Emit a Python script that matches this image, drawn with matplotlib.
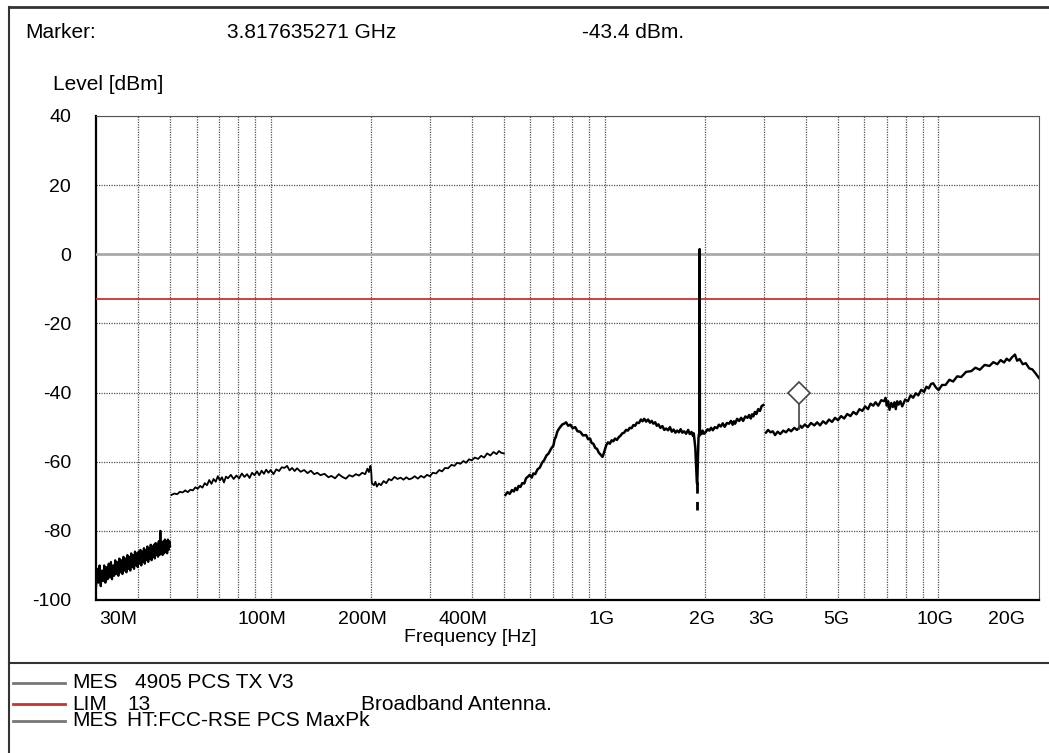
import numpy as np
import matplotlib
matplotlib.use("Agg")
import matplotlib.pyplot as plt
from matplotlib.lines import Line2D
from matplotlib.transforms import ScaledTranslation

plt.rcParams['font.family'] = ['Liberation Sans', 'DejaVu Sans']

# ---- data (frequencies in MHz, levels in dBm) ----
# band 1: 30-50 MHz, sweep every 0.25 MHz
seg1_lvl = [-96.5, -91, -95, -90, -96, -91.5, -94.5, -90, -95, -90.5, -94, -89.5, -93.5, -89,
            -94, -90, -93, -88.5, -92.5, -89, -93, -88, -92, -88.5, -92.5, -87.5, -91.5, -88,
            -92, -87, -91, -87.5, -91.5, -86.5, -90.5, -87, -91, -86, -90, -86.5, -90.5, -86,
            -89.5, -85.5, -90, -86, -89, -85, -89.5, -85.5, -88.5, -84.5, -89, -85, -88, -84,
            -88.5, -84.5, -87.5, -84, -88, -83.5, -87, -84, -87.5, -83, -87, -80, -86.5, -83.5,
            -87, -83, -86.5, -82.5, -86, -83, -86.5, -82.5, -85.5, -83, -84.5]
seg1_f = np.linspace(30, 50, len(seg1_lvl))

# band 2: 50-500 MHz
seg2 = [(50.5, -69.6), (51.5, -69.2), (52.5, -69.4), (53.5, -68.7), (54.5, -68.9), (55.5, -68.3),
        (56.5, -68.8), (57.5, -68.1), (58.5, -68.3), (59.5, -67.4), (60.5, -67.8), (61.5, -67),
        (62.5, -67.5), (63.5, -66.2), (64.5, -66.8), (65.5, -65.3), (66.5, -66.4), (67.5, -65),
        (68.5, -65.8), (69.5, -64.2), (70.5, -65.4), (71.5, -64.5), (72.5, -66), (73.5, -64.3),
        (74.5, -64.8), (76, -63.8), (77.5, -65), (79, -64), (80.5, -64.8), (82, -63.4),
        (83.5, -64.4), (85, -63.6), (86.5, -64.7), (88, -63.2), (89.5, -63.9), (91, -62.8),
        (92.5, -63.9), (94, -62.6), (95.5, -63.5), (97, -62.3), (98.5, -63.2), (100, -62.4),
        (102, -63.6), (104, -62.2), (106, -62.7), (108, -61.6), (110, -61.8), (112, -61.2),
        (114, -62.5), (116, -61.8), (118, -62.7), (120, -61.9), (123, -62.9), (126, -62.4),
        (129, -63.3), (132, -62.6), (135, -63.6), (138, -63.2), (141, -63.9), (145, -63.5),
        (149, -64.5), (152, -64.1), (156, -64.8), (160, -63.6), (164, -64.4), (168, -64.9),
        (172, -63.9), (176, -64.3), (180, -63.6), (184, -64), (188, -63.2), (192, -63.6),
        (195, -62), (197, -63), (199, -61.2), (200, -62.5), (201, -66.2), (204, -66.8),
        (206, -65.8), (208, -67.2), (211, -66.3), (214, -66.8), (218, -65.6), (222, -66.2),
        (226, -65), (230, -65.4), (235, -64.4), (240, -65), (245, -64.6), (250, -65.2),
        (255, -64.5), (260, -65.1), (265, -64.8), (270, -64.2), (276, -64.9), (282, -64.1),
        (288, -64.6), (294, -63.8), (300, -64.2), (306, -63.2), (313, -63.4), (320, -62.4),
        (326, -62.8), (333, -61.8), (340, -61.9), (348, -60.9), (355, -61.2), (362, -60.3),
        (370, -60.6), (378, -59.8), (385, -60.3), (393, -59.3), (400, -59.6), (409, -58.8),
        (418, -59.2), (427, -58.3), (436, -58.8), (445, -57.6), (455, -58.2), (465, -57.2),
        (475, -57.8), (483, -56.9), (490, -57.4), (499, -57.6)]

# band 3: 500 MHz - 3 GHz (notched carrier near 1.9 GHz)
seg3 = [(505, -69.6), (512, -68.8), (520, -69.3), (528, -68.2), (535, -68.6), (541, -67.6),
        (547, -68.2), (553, -67), (560, -67.3), (567, -66.2), (575, -66.3), (582, -64.8),
        (590, -64.3), (597, -63.8), (605, -64.6), (612, -63.4), (620, -63.6), (630, -62.2),
        (640, -61.7), (650, -60.3), (660, -59.5), (670, -58.2), (680, -57.6), (692, -56.2),
        (703, -55.3), (709, -53.5), (715, -52.8), (722, -51.3), (730, -50.5), (739, -49.8),
        (748, -49.2), (757, -49), (767, -48.6), (778, -49.6), (790, -49.3), (803, -50.3),
        (817, -50), (830, -51.2), (845, -51.3), (862, -52.4), (881, -52.3), (893, -53.5),
        (905, -53.3), (915, -54.6), (926, -54.8), (938, -56), (950, -56.3), (960, -57.3),
        (970, -57.8), (978, -58.2), (986, -58.6), (993, -57.8), (1000, -56.8), (1012, -55.2),
        (1024, -54.4), (1037, -54.8), (1050, -53.8), (1062, -54.1), (1075, -53.3), (1089, -53.7),
        (1103, -52.9), (1116, -52.5), (1130, -51.8), (1145, -51.6), (1160, -50.8), (1175, -51),
        (1190, -50.2), (1205, -50.3), (1220, -49.4), (1235, -49.6), (1250, -48.7), (1268, -48.8),
        (1285, -47.8), (1300, -48.3), (1315, -47.6), (1332, -48.4), (1350, -47.8), (1368, -48.7),
        (1385, -48.2), (1400, -49), (1418, -48.6), (1434, -49.6), (1450, -49.2), (1470, -50.2),
        (1490, -49.7), (1510, -50.8), (1529, -50.4), (1550, -50.9), (1570, -50), (1590, -51.3),
        (1610, -50.7), (1630, -51.6), (1649, -51), (1670, -51.5), (1690, -50.6), (1710, -51.6),
        (1730, -51.2), (1755, -51.9), (1780, -50.8), (1800, -52), (1822, -51.4), (1840, -52.5),
        (1850, -51.8), (1860, -54), (1870, -56), (1878, -60), (1885, -64), (1890, -66),
        (1895, -66.5), (1900, -62), (1905, -58), (1912, -53), (1918, -52), (1924, -52.5),
        (1927, 1.5), (1930, -52), (1940, -51.2), (1952, -52), (1965, -51), (1985, -51.9),
        (2010, -51.4), (2035, -50.6), (2060, -51), (2085, -50.2), (2110, -50.9), (2140, -50),
        (2172, -50.3), (2200, -49.3), (2230, -49.8), (2260, -48.9), (2290, -49.9), (2325, -48.8),
        (2360, -49), (2390, -48.2), (2420, -49.3), (2440, -48.3), (2460, -49), (2495, -47.6),
        (2530, -48.2), (2565, -47.3), (2600, -48.2), (2640, -46.9), (2680, -47.3), (2710, -46.5),
        (2740, -47.5), (2765, -46.3), (2789, -46.9), (2820, -45.6), (2850, -46.2), (2885, -44.8),
        (2920, -45.3), (2955, -43.9), (2990, -43.6)]

# band 4: 3 - 20 GHz
seg4 = [(3043, -51.6), (3090, -50.8), (3140, -51.5), (3190, -51.2), (3241, -52.3), (3300, -51.3),
        (3360, -52), (3430, -51), (3494, -51.5), (3560, -50.6), (3620, -51.2), (3700, -50.2),
        (3769, -50.8), (3818, -50.3), (3860, -49.6), (3900, -50.2), (3980, -49.2), (4060, -50),
        (4150, -48.8), (4250, -49.5), (4330, -48.6), (4420, -49.5), (4510, -48.3), (4604, -49),
        (4700, -47.8), (4800, -48.5), (4900, -47.3), (5000, -48), (5110, -46.8), (5218, -47.5),
        (5330, -46.2), (5450, -46.8), (5560, -45.6), (5680, -46.3), (5800, -44.8), (5914, -45.3),
        (6030, -44), (6150, -44.8), (6260, -43.2), (6376, -43.8), (6480, -42.8), (6600, -43.8),
        (6740, -42.2), (6874, -42.5), (6940, -41.5), (7000, -43.8), (7070, -42.5), (7135, -45),
        (7220, -43), (7300, -44.2), (7380, -42.8), (7450, -44.8), (7520, -42.5), (7596, -43.5),
        (7690, -42.5), (7788, -44), (7950, -42), (8100, -42.5), (8250, -40.8), (8397, -41.5),
        (8550, -40.2), (8700, -40.8), (8880, -39.2), (9055, -39.8), (9200, -38.3), (9350, -38.8),
        (9500, -37.5), (9642, -37.3), (9820, -38.5), (10008, -39.3), (10250, -37.8),
        (10500, -37.8), (10780, -36.3), (11064, -36.8), (11380, -35.3), (11700, -35.5),
        (12100, -34), (12543, -33.8), (12900, -32.8), (13300, -33.4), (13750, -32),
        (14214, -32.3), (14600, -31.2), (15000, -31.8), (15350, -30.6), (15720, -31.3),
        (16000, -30.2), (16300, -30.8), (16600, -29.8), (16947, -29), (17200, -30.8),
        (17500, -30.3), (17880, -31.8), (18258, -31.5), (18700, -33), (19100, -33.3),
        (19550, -34.5), (20000, -35.8)]

notch_f = [1895, 1895]
notch_lvl = [-66, -74]

limit_lvl = -13
ref_lvl = 0
marker_f = 3817.635271
marker_lvl = -43.4
marker_trace = -50.4

grid_f = [40, 50, 60, 70, 80, 90, 100, 200, 300, 400, 500, 600, 700, 800, 900, 1000,
          2000, 3000, 4000, 5000, 6000, 7000, 8000, 9000, 10000]
xlabel_f = [34.9, 94.4, 188, 376, 982, 1960, 2946, 4945, 9736, 16010]
xlabel_txt = ['30M', '100M', '200M', '400M', '1G', '2G', '3G', '5G', '10G', '20G']
y_ticks = [-100, -80, -60, -40, -20, 0, 20, 40]

# ---- figure ----
W, H = 1049, 753
fig = plt.figure(figsize=(W / 100, H / 100), dpi=100)
ax = fig.add_axes([96 / W, 1 - 600 / H, (1039 - 96) / W, (600 - 116) / H])

ax.set_xscale('log')
ax.set_xlim(30, 20000)
ax.set_ylim(-100, 40)

ax.set_xticks(grid_f, minor=True)
ax.set_xticks(xlabel_f)
ax.set_xticklabels(xlabel_txt, fontsize=14)
ax.xaxis.set_minor_formatter(plt.NullFormatter())
ax.tick_params(axis='x', which='both', length=0, pad=8)
ax.set_yticks(y_ticks)
ax.set_yticklabels([str(v) for v in y_ticks], fontsize=14)
ax.tick_params(axis='y', length=0, pad=18)

dots = (0, (1, 1))
ax.grid(True, which='minor', axis='x', color='#555555', linestyle=dots, lw=0.9)
ax.grid(False, which='major', axis='x')
ax.grid(True, which='major', axis='y', color='#555555', linestyle=dots, lw=0.9)

for s in ['top', 'right']:
    ax.spines[s].set_linestyle(dots)
    ax.spines[s].set_color('#555555')
for s in ['left', 'bottom']:
    ax.spines[s].set_linewidth(1.6)
    ax.spines[s].set_color('black')

ax.axhline(ref_lvl, color='#aaaaaa', lw=2, zorder=3)
ax.axhline(limit_lvl, color='#c83232', lw=1.3, zorder=3)

ax.plot(seg1_f, seg1_lvl, color='black', lw=1.6, zorder=4)
for seg, lw in [(seg2, 1.3), (seg3, 1.8), (seg4, 1.7)]:
    f, l = zip(*seg)
    ax.plot(f, l, color='black', lw=lw, zorder=4)
ax.plot(notch_f, notch_lvl, color='black', lw=2, linestyle=(0, (4, 3)), zorder=4)

# marker: stem from trace to marker level, diamond sitting on top
ax.plot([marker_f, marker_f], [marker_trace, marker_lvl], color='#444444', lw=1.2, zorder=5)
off = ax.transData + ScaledTranslation(0, 8.3 / 72, fig.dpi_scale_trans)
ax.plot([marker_f], [marker_lvl], marker='D', ms=11.5, mfc='white', mec='#444444',
        mew=1.2, transform=off, zorder=6, clip_on=False)

# ---- frame and text ----
fig.add_artist(Line2D([9 / W, 9 / W], [0, 1 - 7 / H], color='#333333', lw=1.5))
fig.add_artist(Line2D([9 / W, 1], [1 - 7 / H, 1 - 7 / H], color='#333333', lw=2))
fig.add_artist(Line2D([9 / W, 1], [1 - 663 / H, 1 - 663 / H], color='#333333', lw=1.5))

def ftext(x, y, s, **kw):
    fig.text(x / W, 1 - y / H, s, va='center', fontsize=kw.pop('fontsize', 15), **kw)

ftext(25, 32, 'Marker:')
ftext(227, 32, '3.817635271 GHz')
ftext(582, 32, '-43.4 dBm.')
ftext(53, 85, 'Level [dBm]')
ftext(470, 637, 'Frequency [Hz]', ha='center', fontsize=14)

legend_rows = [(683, '#777777', 'MES', 135, '4905 PCS TX V3'),
               (704, '#c83232', 'LIM', 127, '13'),
               (721, '#777777', 'MES', 127, 'HT:FCC-RSE PCS MaxPk')]
for y, c, a, x2, b in legend_rows:
    fig.add_artist(Line2D([13 / W, 65 / W], [1 - y / H, 1 - y / H], color=c, lw=2))
    ftext(72, y, a)
    ftext(x2, y, b)
ftext(361, 705, 'Broadband Antenna.')

fig.savefig('out.png', dpi=100)
